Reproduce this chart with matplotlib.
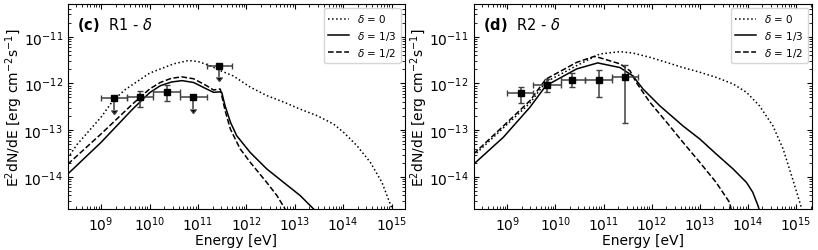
import numpy as np
import matplotlib.pyplot as plt

# R1 model curves, log10(E [eV]) vs log10(E^2 dN/dE)
r1_d0_x = [8.31, 8.50, 9.00, 9.25, 9.50, 10.00, 10.50, 10.80, 11.00, 11.25, 11.45, 11.73, 12.08, 12.42, 12.77,
           13.11, 13.46, 13.80, 14.01, 14.28, 14.56, 14.80, 15.01]
r1_d0_y = [-13.60, -13.31, -12.72, -12.36, -12.13, -11.78, -11.58, -11.51, -11.53, -11.62, -11.72, -11.84, -12.08,
           -12.26, -12.40, -12.55, -12.69, -12.87, -13.05, -13.33, -13.69, -14.12, -14.69]
r1_d13_x = [8.31, 9.00, 9.65, 10.00, 10.22, 10.45, 10.67, 10.91, 11.18, 11.32, 11.46, 11.49, 11.56, 11.67, 11.80,
            12.08, 12.42, 12.77, 13.11, 13.39]
r1_d13_y = [-13.94, -13.26, -12.55, -12.20, -12.05, -11.97, -11.94, -11.98, -12.12, -12.19, -12.18, -12.19,
            -12.48, -12.83, -13.12, -13.48, -13.83, -14.12, -14.40, -14.69]
r1_d12_x = [8.31, 9.00, 9.65, 10.00, 10.22, 10.45, 10.67, 10.91, 11.18, 11.32, 11.46, 11.49, 11.56, 11.67, 11.87,
            12.08, 12.42, 12.63, 12.80]
r1_d12_y = [-13.73, -13.08, -12.44, -12.12, -11.98, -11.89, -11.86, -11.90, -12.05, -12.14, -12.12, -12.26,
            -12.58, -12.98, -13.40, -13.69, -14.12, -14.40, -14.69]

# R2 model curves
r2_d0_x = [8.30, 8.92, 9.47, 9.80, 10.44, 10.92, 11.34, 11.61, 11.96, 12.31, 12.65, 13.00, 13.34, 13.69, 13.97,
           14.24, 14.52, 14.73, 14.93, 15.12]
r2_d0_y = [-13.55, -12.95, -12.42, -11.97, -11.62, -11.37, -11.32, -11.35, -11.44, -11.55, -11.66, -11.76,
           -11.87, -12.01, -12.19, -12.48, -12.91, -13.40, -14.05, -14.69]
r2_d13_x = [8.30, 8.92, 9.47, 9.80, 10.44, 10.88, 10.92, 11.34, 11.61, 11.82, 12.17, 12.65, 13.00, 13.34, 13.69,
            13.97, 14.10, 14.21, 14.23]
r2_d13_y = [-13.73, -13.15, -12.51, -12.05, -11.69, -11.56, -11.57, -11.66, -11.84, -12.12, -12.48, -12.91,
            -13.19, -13.51, -13.83, -14.12, -14.33, -14.62, -14.69]
r2_d12_x = [8.30, 8.92, 9.47, 9.80, 10.44, 10.81, 10.92, 11.34, 11.55, 11.68, 11.96, 12.31, 12.65, 13.00, 13.34,
            13.62, 13.65]
r2_d12_y = [-13.51, -12.91, -12.37, -11.91, -11.55, -11.42, -11.45, -11.58, -11.73, -11.98, -12.40, -12.83,
            -13.26, -13.69, -14.12, -14.55, -14.69]

# Fermi-LAT points
r1_E = [1.8e9, 6.4e9, 2.3e10, 7.8e10, 2.75e11]
r1_Elo = [1.0e9, 3.5e9, 1.2e10, 4.2e10, 1.5e11]
r1_Ehi = [3.4e9, 1.2e10, 4.2e10, 1.5e11, 5.0e11]
r1_F = [4.8e-13, 5.0e-13, 6.7e-13, 5.0e-13, 2.4e-12]
r1_Flo = [np.nan, 3.2e-13, 4.2e-13, np.nan, np.nan]
r1_Fhi = [np.nan, 6.9e-13, 9.2e-13, np.nan, np.nan]
r1_ul = [True, False, False, True, True]

r2_E = [1.9e9, 6.6e9, 2.2e10, 7.9e10, 2.8e11]
r2_Elo = [1.0e9, 3.5e9, 1.3e10, 4.1e10, 1.5e11]
r2_Ehi = [3.4e9, 1.3e10, 4.1e10, 1.5e11, 5.1e11]
r2_F = [6.1e-13, 9.2e-13, 1.2e-12, 1.2e-12, 1.35e-12]
r2_Flo = [3.9e-13, 6.6e-13, 8.2e-13, 5.0e-13, 1.45e-13]
r2_Fhi = [8.2e-13, 1.23e-12, 1.66e-12, 1.9e-12, 2.5e-12]
r2_ul = [False, False, False, False, False]

labels = [r'$\delta$ = 0', r'$\delta$ = 1/3', r'$\delta$ = 1/2']
xticks = [1e9, 1e10, 1e11, 1e12, 1e13, 1e14, 1e15]
yticks = [1e-14, 1e-13, 1e-12, 1e-11]


def draw_panel(ax, curves, E, Elo, Ehi, F, Flo, Fhi, ul, tag, xlim):
    styles = [':', '-', '--']
    for (cx, cy), ls, lab in zip(curves, styles, labels):
        ax.plot(10**np.array(cx), 10**np.array(cy), ls=ls, color='k', lw=1.1, label=lab)

    E = np.array(E); F = np.array(F)
    xerr = [E - np.array(Elo), np.array(Ehi) - E]
    ul = np.array(ul)
    ylow = np.where(ul, F * (1 - 10**-0.25), F - np.array(Flo))
    yhigh = np.where(ul, 0.0, np.array(Fhi) - F)
    ax.errorbar(E, F, xerr=xerr, yerr=[ylow, yhigh], uplims=ul, fmt='s', color='k',
                ecolor='0.25', ms=5, capsize=2, elinewidth=1.1, zorder=5)

    ax.set_xscale('log')
    ax.set_yscale('log')
    ax.set_xticks(xticks)
    ax.set_yticks(yticks)
    ax.set_xlim(*xlim)
    ax.set_ylim(10**-14.69, 10**-10.30)
    ax.tick_params(which='both', direction='in', top=True, right=True, labelsize=10)
    ax.set_xlabel('Energy [eV]', fontsize=10, labelpad=0)
    ax.set_ylabel(r'E$^2$dN/dE [erg cm$^{-2}$s$^{-1}$]', fontsize=10, labelpad=-1)
    ax.text(0.028, 0.905, tag, transform=ax.transAxes, fontsize=10.5, va='center')
    ax.legend(loc='upper right', fontsize=7.5, labelspacing=0.4, borderaxespad=0.4)


fig = plt.figure(figsize=(8.18, 2.51), dpi=100)
ax1 = fig.add_axes([0.0828, 0.163, 0.412, 0.817])
ax2 = fig.add_axes([0.579, 0.163, 0.4136, 0.817])

draw_panel(ax1, [(r1_d0_x, r1_d0_y), (r1_d13_x, r1_d13_y), (r1_d12_x, r1_d12_y)],
           r1_E, r1_Elo, r1_Ehi, r1_F, r1_Flo, r1_Fhi, r1_ul,
           r'$\mathbf{(c)}$  R1 - $\delta$', (10**8.31, 10**15.27))
draw_panel(ax2, [(r2_d0_x, r2_d0_y), (r2_d13_x, r2_d13_y), (r2_d12_x, r2_d12_y)],
           r2_E, r2_Elo, r2_Ehi, r2_F, r2_Flo, r2_Fhi, r2_ul,
           r'$\mathbf{(d)}$  R2 - $\delta$', (10**8.30, 10**15.33))

fig.savefig('out.png', dpi=100)
